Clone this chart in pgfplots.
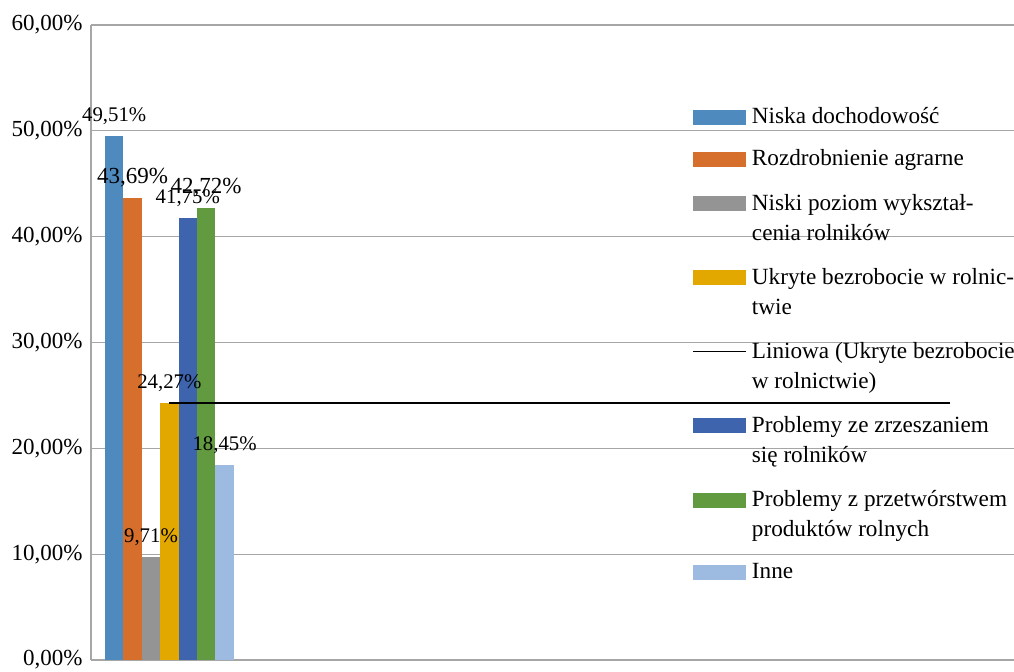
\documentclass[border=0pt]{standalone}
\usepackage{pgfplots}
\pgfplotsset{compat=1.18}
\usepackage{fontspec}
\setmainfont{Liberation Serif}
\definecolor{c1}{HTML}{4F8ABE}
\definecolor{c2}{HTML}{D56F2B}
\definecolor{c3}{HTML}{949494}
\definecolor{c4}{HTML}{E3A800}
\definecolor{c5}{HTML}{3D64AD}
\definecolor{c6}{HTML}{629B3F}
\definecolor{c7}{HTML}{9DBBE0}
\newcommand{\fst}{\rule{0pt}{11.6pt}}
\begin{document}
\begin{tikzpicture}
\begin{axis}[
  at={(0,0)}, anchor=origin,
  scale only axis, width=461.5pt, height=317.5pt,
  xmin=0, xmax=923, ymin=0, ymax=60,
  axis x line*=bottom, axis y line*=left,
  axis line style={-, draw=black!35, line width=0.6pt},
  xtick=\empty,
  ytick={0,10,20,30,40,50,60},
  yticklabels={{0,00\%},{10,00\%},{20,00\%},{30,00\%},{40,00\%},{50,00\%},{60,00\%}},
  ymajorgrids, grid style={draw=black!35, line width=0.6pt},
  major tick length=0pt,
  yticklabel style={font=\fontsize{11.5}{14}\selectfont, inner sep=0pt, xshift=-4pt},
  /pgf/number format/assume math mode=true,
  mybar/.style 2 args={ybar, bar width=18.4, bar shift=0pt, draw=none, fill=#1,
    legend image code/.code={\fill[#1] (0pt,-11.05pt-#2) rectangle (26.5pt,-3.55pt-#2);}},
  lbl/.style={nodes near coords={\pgfmathprintnumber[fixed,precision=2,zerofill,use comma,assume math mode=true]{\pgfplotspointmeta}\%},
    every node near coord/.append style={anchor=center, yshift=10pt, inner sep=0pt, font=\fontsize{#1}{12}\selectfont}},
  legend style={at={(0.6511,0.8787)}, anchor=north west, draw=none, fill=none,
    inner sep=0pt, row sep=8.8pt, font=\fontsize{11.6}{15}\selectfont,
    nodes={inner xsep=2.6pt, inner ysep=0pt, anchor=north west, align=left}},
]
\addplot[mybar={c1}{0pt}, lbl=10.4] coordinates {(23.2,49.51)};
\addlegendentry{Niska dochodowość\strut}
\addplot[mybar={c2}{0pt}, lbl=11.5] coordinates {(41.6,43.69)};
\addlegendentry{Rozdrobnienie agrarne\strut}
\addplot[mybar={c3}{1.1pt}, lbl=10.4] coordinates {(60.0,9.71)};
\addlegendentry{Niski poziom wykształ-\fst\\cenia rolników\strut}
\addplot[mybar={c4}{1.1pt}, lbl=10.4] coordinates {(78.4,24.27)};
\addlegendentry{Ukryte bezrobocie w rolnic-\fst\\twie\strut}
\addlegendimage{legend image code/.code={\draw[black, line width=0.7pt] (0pt,-8.4pt) -- (26.5pt,-8.4pt);}}
\addlegendentry{Liniowa (Ukryte bezrobocie\fst\\w rolnictwie)\strut}
\addplot[mybar={c5}{1.1pt}, lbl=10.4] coordinates {(96.8,41.75)};
\addlegendentry{Problemy ze zrzeszaniem\fst\\się rolników\strut}
\addplot[mybar={c6}{1.1pt}, lbl=11.5] coordinates {(115.2,42.72)};
\addlegendentry{Problemy z przetwórstwem\fst\\produktów rolnych\strut}
\addplot[mybar={c7}{0pt}, lbl=10.4] coordinates {(133.6,18.45)};
\addlegendentry{Inne\strut}
\addplot[black, line width=0.7pt, forget plot] coordinates {(78.4,24.27) (859,24.27)};
\end{axis}
\pgfresetboundingbox
\path[use as bounding box] (-45.5pt,-5.5pt) rectangle (461.5pt,330pt);
\end{tikzpicture}
\end{document}
